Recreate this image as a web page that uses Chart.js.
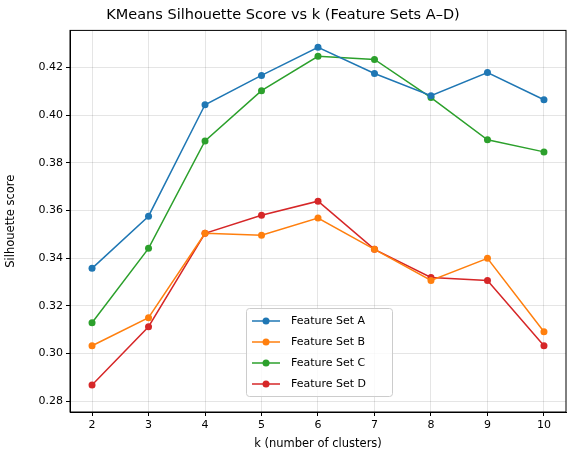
<!DOCTYPE html>
<html><head><meta charset="utf-8">
<script src="https://cdn.jsdelivr.net/npm/chart.js@4"></script>
<style>html,body{margin:0;padding:0;background:#fff}#w{width:576px;height:455px}</style>
</head><body><div id="w"><canvas id="c"></canvas></div>
<script>
const ks=[2,3,4,5,6,7,8,9,10];
const setA=[0.3357,0.3576,0.4044,0.4167,0.4285,0.4175,0.4082,0.4179,0.4065];
const setB=[0.3032,0.3150,0.3504,0.3496,0.3568,0.3437,0.3306,0.3399,0.3091];
const setC=[0.3129,0.3441,0.3892,0.4103,0.4247,0.4234,0.4074,0.3897,0.3846];
const setD=[0.2867,0.3112,0.3504,0.3580,0.3639,0.3437,0.3319,0.3306,0.3032];
const names=['Feature Set A','Feature Set B','Feature Set C','Feature Set D'];
const colors=['#1f77b4','#ff7f0e','#2ca02c','#d62728'];
const yTicks=[0.28,0.30,0.32,0.34,0.36,0.38,0.40,0.42];
const F='"DejaVu Sans"';
const ds=[setA,setB,setC,setD].map((s,i)=>({label:names[i],data:s.map((v,j)=>({x:ks[j],y:v})),borderColor:colors[i],backgroundColor:colors[i],borderWidth:1.5,pointRadius:3.5,pointBorderWidth:0,pointHoverRadius:3.5}));
const legendPlugin={id:'lg',afterDraw(ch){const c=ch.ctx;const a=ch.chartArea;c.save();c.strokeStyle='#000';c.lineWidth=1;c.strokeRect(a.left,a.top,a.right-a.left,a.bottom-a.top);
const x0=246,y0=308,w=146,h=88;c.fillStyle='rgba(255,255,255,0.8)';c.strokeStyle='#ccc';c.beginPath();c.roundRect(x0+0.5,y0+0.5,w,h,3);c.fill();c.stroke();c.font='11px '+F;c.textBaseline='middle';ch.data.datasets.forEach((d,i)=>{const y=y0+13+i*21;c.strokeStyle=d.borderColor;c.lineWidth=1.5;c.beginPath();c.moveTo(x0+6,y);c.lineTo(x0+34,y);c.stroke();c.fillStyle=d.borderColor;c.beginPath();c.arc(x0+20,y,3.5,0,7);c.fill();c.fillStyle='#000';c.fillText(d.label,x0+45,y);});c.restore();}};
new Chart(document.getElementById('c'),{type:'line',data:{datasets:ds},plugins:[legendPlugin],
options:{responsive:true,maintainAspectRatio:false,animation:false,layout:{padding:{left:0,right:10,top:0,bottom:0}},
plugins:{legend:{display:false},tooltip:{enabled:false},title:{display:true,text:'KMeans Silhouette Score vs k (Feature Sets A–D)',color:'#000',font:{family:F,size:14.5,weight:'normal'},padding:{top:7,bottom:6}}},
scales:{x:{type:'linear',min:1.61,max:10.39,afterBuildTicks(a){a.ticks=ks.map(v=>({value:v}));},ticks:{color:'#000',font:{family:F,size:11},autoSkip:false},grid:{color:'rgba(0,0,0,0.1)',tickColor:'#000',tickLength:4},border:{color:'#000'},title:{display:true,text:'k (number of clusters)',color:'#000',font:{family:F,size:11.5},padding:{top:2,bottom:4}},afterFit(a){a.height=43;}},
y:{min:0.2754,max:0.4356,afterBuildTicks(a){a.ticks=yTicks.map(v=>({value:v}));},ticks:{color:'#000',font:{family:F,size:11},callback:v=>v.toFixed(2)},grid:{color:'rgba(0,0,0,0.1)',tickColor:'#000',tickLength:4},border:{color:'#000'},title:{display:true,text:'Silhouette score',color:'#000',font:{family:F,size:11.5}},afterFit(a){a.width=70;}}}}});
</script></body></html>
